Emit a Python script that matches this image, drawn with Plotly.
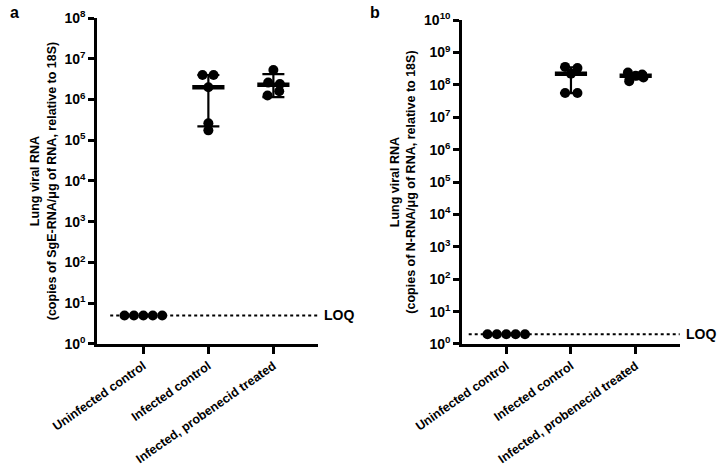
import numpy as np
import plotly.graph_objects as go

categories = ["Uninfected control", "Infected control", "Infected, probenecid treated"]

# Panel a: SgE-RNA copies
a_values = [
    [5, 5, 5, 5, 5],
    [4.0e6, 4.0e6, 2.0e6, 2.6e5, 1.75e5],
    [5.3e6, 2.6e6, 2.4e6, 1.6e6, 1.25e6],
]
a_median = [5, 2.0e6, 2.3e6]
a_upper = [5, 4.0e6, 4.2e6]
a_lower = [5, 2.2e5, 1.15e6]
a_loq = 5

# Panel b: N-RNA copies
b_values = [
    [2, 2, 2, 2, 2],
    [3.6e8, 3.3e8, 2.2e8, 5.6e7, 5.6e7],
    [2.4e8, 2.1e8, 1.9e8, 1.7e8, 1.3e8],
]
b_median = [2, 2.2e8, 1.9e8]
b_upper = [2, 3.5e8, 2.3e8]
b_lower = [2, 5.6e7, 1.5e8]
b_loq = 2

a_tick_exp = list(range(0, 9))
b_tick_exp = list(range(0, 11))

# horizontal scatter offsets of dots within each group (layout only)
jitter = [
    [-0.29, -0.145, 0.0, 0.145, 0.29],
    [-0.09, 0.08, 0.0, 0.0, 0.0],
    [0.0, -0.08, 0.1, 0.09, -0.09],
]
jitter_b = [
    [-0.29, -0.145, 0.0, 0.145, 0.29],
    [-0.09, 0.1, 0.0, -0.09, 0.1],
    [-0.12, 0.1, 0.0, 0.12, -0.1],
]

FONT = "Liberation Sans, Arial, sans-serif"
fig = go.Figure()


def add_panel(values, med, up, lo, loq, offs, xa, ya, loq_start):
    for i, vals in enumerate(values):
        fig.add_trace(go.Scatter(
            x=[i + o for o in offs[i]], y=vals, mode="markers",
            marker=dict(color="black", size=10),
            xaxis=xa, yaxis=ya, showlegend=False, cliponaxis=False))
    for i in range(len(values)):
        if i == 0:
            continue
        fig.add_trace(go.Scatter(
            x=[i], y=[med[i]], mode="markers",
            marker=dict(symbol="line-ew", size=23, line=dict(width=4.5, color="black")),
            error_y=dict(type="data", symmetric=False,
                         array=[up[i] - med[i]], arrayminus=[med[i] - lo[i]],
                         color="black", thickness=2.2, width=11),
            xaxis=xa, yaxis=ya, showlegend=False))
    fig.add_trace(go.Scatter(
        x=[loq_start, 2.7], y=[loq, loq], mode="lines",
        line=dict(color="black", width=2.2, dash="dot"),
        xaxis=xa, yaxis=ya, showlegend=False, cliponaxis=True))


add_panel(a_values, a_median, a_upper, a_lower, a_loq, jitter, "x", "y", -0.51)
add_panel(b_values, b_median, b_upper, b_lower, b_loq, jitter_b, "x2", "y2", -0.58)

xcommon = dict(
    tickmode="array", tickvals=[0, 1, 2], ticktext=categories, tickangle=-35,
    ticks="outside", ticklen=7, tickwidth=2.5, tickcolor="black",
    showline=True, linecolor="black", linewidth=2.8, showgrid=False, zeroline=False,
    automargin=False,
    tickfont=dict(family=FONT, size=12.5, color="black", weight="bold"),
)


def ycommon(exps, title):
    return dict(
        type="log", range=[0, exps[-1]],
        tickmode="array", tickvals=[10 ** e for e in exps],
        ticktext=["10<sup>%d</sup>" % e for e in exps],
        ticks="outside", ticklen=6, tickwidth=2.5, tickcolor="black",
        showline=True, linecolor="black", linewidth=2.8, showgrid=False, zeroline=False,
        automargin=False,
        tickfont=dict(family=FONT, size=14, color="black", weight="bold"),
        title=dict(text=title, standoff=6,
                   font=dict(family=FONT, size=12.5, color="black", weight="bold")),
    )


fig.update_layout(
    width=720, height=468,
    margin=dict(l=0, r=0, t=0, b=0, autoexpand=False),
    plot_bgcolor="white", paper_bgcolor="white",
    xaxis=dict(domain=[0.135, 0.442], range=[-0.71, 2.69], anchor="y", **xcommon),
    yaxis=dict(domain=[0.265, 0.9615], anchor="x",
               **ycommon(a_tick_exp, "Lung viral RNA<br>(copies of SgE-RNA/μg of RNA, relative to 18S)")),
    xaxis2=dict(domain=[0.642, 0.944], range=[-0.68, 2.68], anchor="y2", **xcommon),
    yaxis2=dict(domain=[0.265, 0.957], anchor="x2",
                **ycommon(b_tick_exp, "Lung viral RNA<br>(copies of N-RNA/μg of RNA, relative to 18S)")),
)

for xr, yr, loq in [("x domain", "y", a_loq), ("x2 domain", "y2", b_loq)]:
    fig.add_annotation(x=1, y=np.log10(loq), xref=xr, yref=yr, text="LOQ",
                       showarrow=False, xanchor="left", xshift=4,
                       font=dict(family=FONT, size=14, color="black", weight="bold"))

fig.add_annotation(x=0.011, y=0.995, xref="paper", yref="paper", text="a", showarrow=False,
                   xanchor="left", yanchor="top",
                   font=dict(family=FONT, size=16, color="black", weight="bold"))
fig.add_annotation(x=0.511, y=0.995, xref="paper", yref="paper", text="b", showarrow=False,
                   xanchor="left", yanchor="top",
                   font=dict(family=FONT, size=16, color="black", weight="bold"))

fig.write_html("out.html", config={"displayModeBar": False},
               post_script="document.body.style.margin='0';document.body.style.overflow='hidden';")
